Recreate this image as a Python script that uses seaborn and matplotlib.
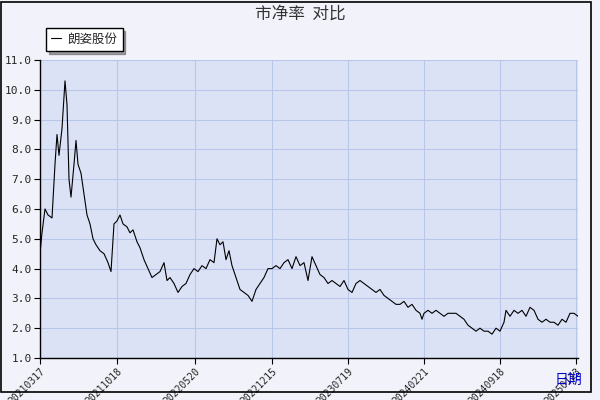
import matplotlib
matplotlib.use("Agg")
import matplotlib.pyplot as plt
import seaborn as sns
import pandas as pd

t = [0,2,5,8,12,15,17,19,22,25,
     27,29,31,34,36,38,41,44,47,50,
     53,56,60,64,68,71,74,77,80,83,
     87,90,93,97,100,104,108,112,116,120,
     124,127,130,134,138,142,146,150,154,158,
     162,166,170,174,177,180,183,186,189,192,
     196,200,204,208,212,216,220,224,228,232,
     236,240,244,248,252,256,260,264,268,272,
     276,280,284,288,292,296,300,304,308,312,
     316,320,324,328,332,336,340,344,348,352,
     356,360,364,368,372,376,380,382,384,388,
     392,396,400,404,408,412,416,420,424,428,
     432,436,440,444,448,452,456,460,464,466,
     470,474,478,482,486,490,494,498,502,506,
     510,514,518,522,526,530,534,538]
v = [4.5,5.2,6.0,5.8,5.7,7.5,8.5,7.8,8.7,10.3,
     9.5,7.0,6.4,7.5,8.3,7.5,7.2,6.5,5.8,5.5,
     5.0,4.8,4.6,4.5,4.2,3.9,5.5,5.6,5.8,5.5,
     5.4,5.2,5.3,4.9,4.7,4.3,4.0,3.7,3.8,3.9,
     4.2,3.6,3.7,3.5,3.2,3.4,3.5,3.8,4.0,3.9,
     4.1,4.0,4.3,4.2,5.0,4.8,4.9,4.3,4.6,4.1,
     3.7,3.3,3.2,3.1,2.9,3.3,3.5,3.7,4.0,4.0,
     4.1,4.0,4.2,4.3,4.0,4.4,4.1,4.2,3.6,4.4,
     4.1,3.8,3.7,3.5,3.6,3.5,3.4,3.6,3.3,3.2,
     3.5,3.6,3.5,3.4,3.3,3.2,3.3,3.1,3.0,2.9,
     2.8,2.8,2.9,2.7,2.8,2.6,2.5,2.3,2.5,2.6,
     2.5,2.6,2.5,2.4,2.5,2.5,2.5,2.4,2.3,2.1,
     2.0,1.9,2.0,1.9,1.9,1.8,2.0,1.9,2.2,2.6,
     2.4,2.6,2.5,2.6,2.4,2.7,2.6,2.3,2.2,2.3,
     2.2,2.2,2.1,2.3,2.2,2.5,2.5,2.4]
tick_pos = [0,77,155,232,308,384,460,536]
tick_labels = ["20210317","20211018","20220520","20221215","20230719","20240221","20240918","20250123"]
series_name = "朗姿股份"

sns.set_theme(style="white")
plt.rcParams['font.family'] = ['Noto Sans CJK SC', 'DejaVu Sans']

fig = plt.figure(figsize=(6, 4), dpi=100, facecolor="#F2F3FA")
ax = fig.add_axes([40/600, 1-358/400, 538/600, 298/400])
ax.set_facecolor("#DCE2F6")
df = pd.DataFrame({"t": t, "v": v})
sns.lineplot(data=df, x="t", y="v", ax=ax, color="black", linewidth=0.8, label=series_name)
ax.set_xlim(0, 538)
ax.set_ylim(1.0, 11.0)
ax.set_yticks([1,2,3,4,5,6,7,8,9,10,11])
ax.set_yticklabels([f"{y:.1f}" for y in range(1, 12)], fontsize=8, family="DejaVu Sans Mono")
ax.set_xticks(tick_pos)
ax.set_xticklabels(tick_labels, rotation=45, ha="right", rotation_mode="anchor", fontsize=7, family="DejaVu Sans Mono")
ax.grid(True, color="#B8C6EA", linewidth=0.8)
ax.tick_params(axis="both", direction="out", length=4, width=0.8, color="black", left=True, bottom=True, pad=2)
ax.set_xlabel("")
ax.set_ylabel("")
for s in ["top", "right"]:
    ax.spines[s].set_visible(False)
for s in ["left", "bottom"]:
    ax.spines[s].set_color("black")
    ax.spines[s].set_linewidth(1)

leg = ax.legend(loc="lower left", bbox_to_anchor=(0, 1.01), frameon=True, fancybox=False,
                shadow=True, fontsize=9, handlelength=0.8, borderpad=0.4, handletextpad=0.5)
leg.get_frame().set_edgecolor("black")
leg.get_frame().set_facecolor("white")

fig.text(0.5, 1-14/400, "市净率  对比", ha="center", va="center", fontsize=12, color="#333333")
fig.text(568/600, 1-380/400, "日期", ha="center", va="center", fontsize=10, color="#0000CC")

fig.add_artist(plt.Rectangle((0.002, 0.02), 0.983, 0.975, transform=fig.transFigure,
                             fill=False, edgecolor="black", linewidth=1.2))
fig.savefig("out.png", dpi=100, facecolor=fig.get_facecolor())
